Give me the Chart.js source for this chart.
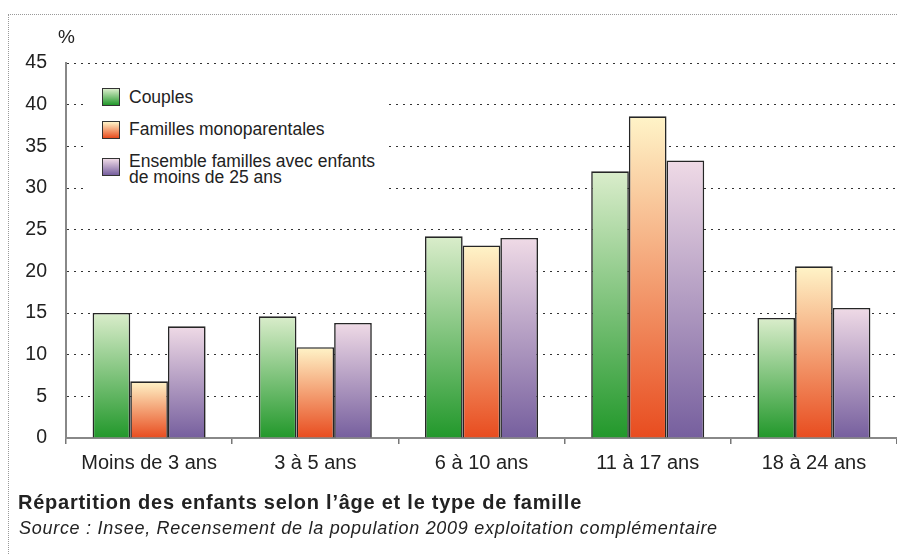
<!DOCTYPE html>
<html>
<head>
<meta charset="utf-8">
<script src="https://cdn.jsdelivr.net/npm/chart.js@4"></script>
<style>
  html, body { margin: 0; padding: 0; background: #fff; }
  #wrap { position: relative; width: 897px; height: 554px; overflow: hidden; font-family: "Liberation Sans", Arial, sans-serif; color: #222; }
  #frame { position: absolute; left: 8px; top: 14px; right: -10px; bottom: -10px; border-left: 1px dotted #999; border-top: 1px dotted #999; }
  #chartBox { position: absolute; left: 0; top: 0; width: 897px; height: 554px; }
  #pct { position: absolute; left: 58px; top: 26px; font-size: 19px; }
  #legend { position: absolute; left: 86px; top: 70px; width: 302px; height: 128px; background: #fff; }
  .sw { position: absolute; left: 16px; width: 16px; height: 16px; border: 1px solid #333; }
  .t { position: absolute; left: 43px; font-size: 17.5px; line-height: 16px; white-space: nowrap; }
  #title { position: absolute; left: 18px; top: 492px; font-size: 20px; line-height: 20px; letter-spacing: 0.75px; font-weight: bold; white-space: nowrap; }
  #source { position: absolute; left: 19px; top: 519px; font-size: 18px; line-height: 18px; letter-spacing: 0.72px; font-style: italic; white-space: nowrap; }
</style>
</head>
<body>
<div id="wrap">
  <div id="frame"></div>
  <div id="chartBox"><canvas id="c" width="897" height="554"></canvas></div>
  <div id="pct">%</div>
  <div id="legend"></div>
  <div id="title">Répartition des enfants selon l’âge et le type de famille</div>
  <div id="source">Source : Insee, Recensement de la population 2009 exploitation complémentaire</div>
</div>
<script>
const categories = ["Moins de 3 ans", "3 à 5 ans", "6 à 10 ans", "11 à 17 ans", "18 à 24 ans"];
const seriesNames = ["Couples", "Familles monoparentales", "Ensemble familles avec enfants\nde moins de 25 ans"];
const couples = [15.0, 14.6, 24.2, 32.0, 14.4];
const monoparentales = [6.8, 10.9, 23.1, 38.6, 20.6];
const ensemble = [13.4, 13.8, 24.0, 33.3, 15.6];
const yTicks = [0, 5, 10, 15, 20, 25, 30, 35, 40, 45];

const gradStops = [
  ["#daedcb", "#22982b"],
  ["#fff4c8", "#e84c1f"],
  ["#efdae6", "#765f9e"]
];

function barGradient(si) {
  return function(ctx) {
    const chart = ctx.chart;
    const ys = chart.scales && chart.scales.y;
    if (!ys || ctx.type !== 'data') return gradStops[si][1];
    const v = ctx.raw;
    const top = ys.getPixelForValue(v);
    const bottom = ys.getPixelForValue(0);
    if (!isFinite(top) || !isFinite(bottom) || top === bottom) return gradStops[si][1];
    const g = chart.ctx.createLinearGradient(0, top, 0, bottom);
    g.addColorStop(0, gradStops[si][0]);
    g.addColorStop(1, gradStops[si][1]);
    return g;
  };
}

const dataSeries = [couples, monoparentales, ensemble];

// HTML legend
const legend = document.getElementById('legend');
const swatchTops = [18, 51, 88];
const textTops = [19, 51, 83];
seriesNames.forEach((name, i) => {
  const sw = document.createElement('div');
  sw.className = 'sw';
  sw.style.top = swatchTops[i] + 'px';
  sw.style.background = 'linear-gradient(to bottom, ' + gradStops[i][0] + ', ' + gradStops[i][1] + ')';
  const t = document.createElement('div');
  t.className = 't';
  t.style.top = textTops[i] + 'px';
  t.innerHTML = name.split('\n').join('<br>');
  legend.appendChild(sw);
  legend.appendChild(t);
});

new Chart(document.getElementById('c'), {
  type: 'bar',
  data: {
    labels: categories,
    datasets: dataSeries.map((d, i) => ({
      label: seriesNames[i],
      data: d,
      backgroundColor: barGradient(i),
      borderColor: '#262626',
      borderWidth: 1.6,
      borderSkipped: 'bottom',
      barPercentage: 1.0,
      categoryPercentage: 0.68
    }))
  },
  options: {
    responsive: false,
    animation: false,
    events: [],
    layout: { padding: { top: 63, left: 0, right: 0, bottom: 0 } },
    plugins: { legend: { display: false }, tooltip: { enabled: false }, title: { display: false } },
    scales: {
      x: {
        grid: { display: true, drawOnChartArea: false, drawTicks: true, tickLength: 6, color: '#777', lineWidth: 1.5, offset: true },
        border: { display: true, color: '#888', width: 2 },
        ticks: { color: '#222', font: { family: '"Liberation Sans", Arial, sans-serif', size: 20 }, padding: 7, maxRotation: 0 },
        afterFit: (s) => { s.height = 554 - 438; }
      },
      y: {
        min: 0, max: 45,
        afterBuildTicks: (s) => { s.ticks = yTicks.map(v => ({ value: v })); },
        grid: { drawTicks: false, color: '#333', lineWidth: 1 },
        border: { display: true, color: '#888', width: 2, dash: [2, 5] },
        ticks: { color: '#222', font: { family: '"Liberation Sans", Arial, sans-serif', size: 19.5 }, padding: 19 },
        afterFit: (s) => { s.width = 66; }
      }
    }
  }
});
</script>
</body>
</html>
